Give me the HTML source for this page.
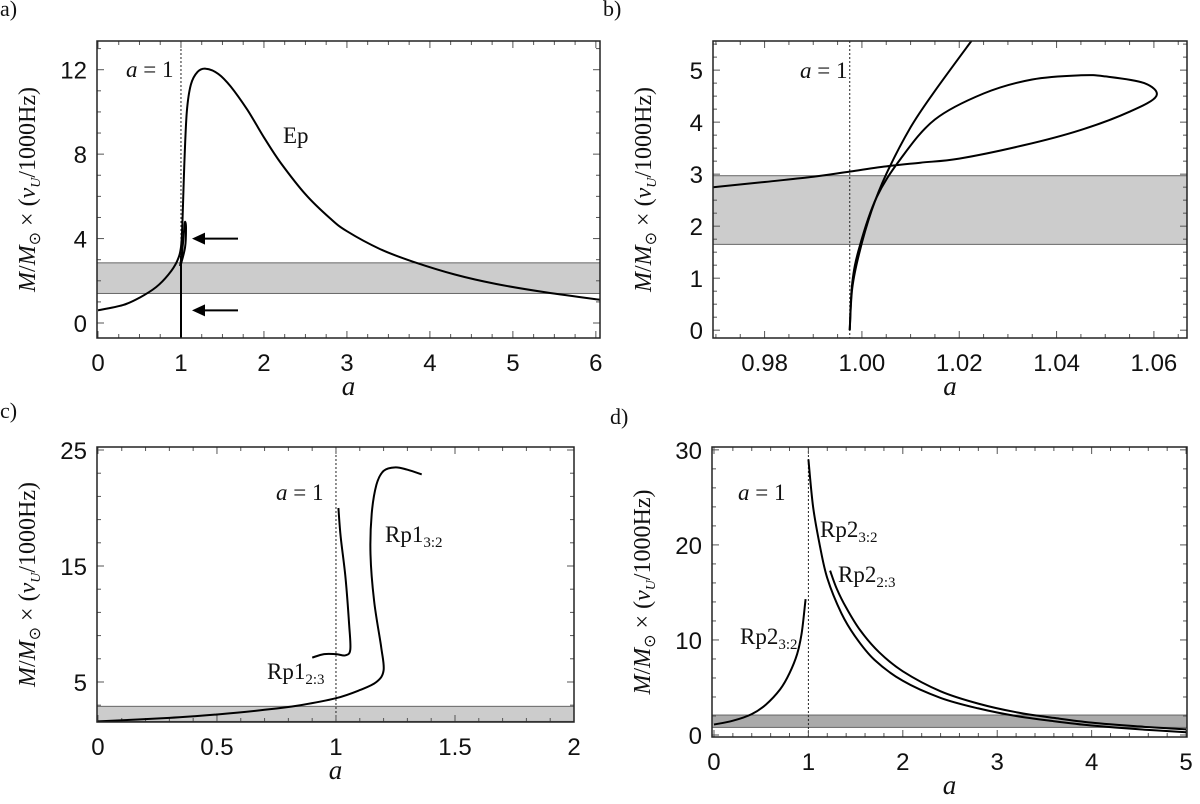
<!DOCTYPE html>
<html><head><meta charset="utf-8"><style>
body{margin:0;background:#fff;}
svg{display:block;}
text{font-family:"Liberation Sans",sans-serif;fill:#111;}
.serif{font-family:"Liberation Serif",serif;}
</style></head><body>
<svg id="fig" width="1200" height="804" viewBox="0 0 1200 804" xmlns="http://www.w3.org/2000/svg"></svg>
<script>
// ---- data ----
const aTicksX=[0,1,2,3,4,5,6];
const aTicksY=[0,4,8,12];
const aBand=[1.4,2.85];
const aEpX=[0,0.3,0.5,0.7,0.85,0.95,1.0,1.02,1.04,1.07,1.12,1.2,1.3,1.45,1.6,1.8,2.0,2.2,2.5,2.8,3.0,3.4,3.8,4.3,4.8,5.4,6.05];
const aEpY=[0.6,0.85,1.2,1.7,2.3,2.9,3.6,5,7.5,10,11.3,11.9,12.05,11.8,11.2,10.1,8.8,7.6,6.1,4.95,4.35,3.5,2.9,2.3,1.85,1.45,1.1];
const aLoopX=[0.99,1.02,1.04,1.05,1.06,1.05,1.0];
const aLoopY=[2.7,3.6,4.5,4.8,4.5,3.6,2.8];
const aVertX=[1.0,1.0];
const aVertY=[-0.7,3.2];

const bTicksX=[0.98,1.00,1.02,1.04,1.06];
const bTicksY=[0,1,2,3,4,5];
const bBand=[1.65,2.97];
const bLoopX=[0.9694,0.98,0.99,0.9975,1.005,1.012,1.02,1.033,1.045,1.055,1.0605,1.058,1.05,1.045,1.035,1.025,1.015,1.008,1.003,0.9995,0.998,0.9975];
const bLoopY=[2.75,2.85,2.95,3.05,3.15,3.22,3.3,3.55,3.85,4.2,4.5,4.75,4.88,4.9,4.82,4.55,4.05,3.3,2.55,1.6,0.9,0.0];
const bBranchX=[0.9975,0.998,0.9995,1.002,1.005,1.01,1.015,1.0225];
const bBranchY=[0.0,0.8,1.5,2.3,3.0,3.9,4.6,5.56];

const cTicksX=[0,0.5,1,1.5,2];
const cTicksY=[5,15,25];
const cBand=[1.6,2.9];
const cMainX=[0,0.3,0.5,0.7,0.85,1.0,1.1,1.17,1.2,1.19,1.16,1.145,1.15,1.17,1.2,1.25,1.3,1.36];
const cMainY=[1.6,1.9,2.2,2.6,3.0,3.6,4.3,5.0,6.0,8,12,16,19.5,22,23.2,23.5,23.3,22.9];
const cRp23X=[0.9,0.95,1.0,1.04,1.06,1.055,1.04,1.02,1.01];
const cRp23Y=[7.1,7.4,7.4,7.3,7.8,10,14,17.5,20];

const dTicksX=[0,1,2,3,4,5];
const dTicksY=[0,10,20,30];
const dBand=[0.8,2.1];
const dLeftX=[0,0.2,0.4,0.55,0.7,0.8,0.88,0.93,0.97];
const dLeftY=[1.1,1.5,2.2,3.2,4.8,6.5,8.5,10.8,14.3];
const dRight1X=[1.0,1.05,1.12,1.2,1.35,1.5,1.7,2.0,2.4,2.8,3.2,3.6,4.0,4.5,5.0];
const dRight1Y=[29,24,20,16.5,12.8,10.3,7.9,5.7,3.9,2.8,2.0,1.45,1.0,0.6,0.3];
const dRight2X=[1.23,1.3,1.4,1.55,1.75,2.0,2.4,2.8,3.2,3.6,4.0,4.5,5.0];
const dRight2Y=[17.3,15.4,13.4,11.0,8.7,6.7,4.6,3.3,2.4,1.8,1.3,0.9,0.6];

// ---- drawing ----
const NS="http://www.w3.org/2000/svg";
const svg=document.getElementById('fig');
function el(tag,attrs,parent){const e=document.createElementNS(NS,tag);for(const k in attrs)e.setAttribute(k,attrs[k]);(parent||svg).appendChild(e);return e;}
function smooth(pts){
  let d="M"+pts[0][0].toFixed(1)+","+pts[0][1].toFixed(1);
  for(let i=0;i<pts.length-1;i++){
    const p0=pts[i-1]||pts[i],p1=pts[i],p2=pts[i+1],p3=pts[i+2]||p2;
    const c1=[p1[0]+(p2[0]-p0[0])/6,p1[1]+(p2[1]-p0[1])/6];
    const c2=[p2[0]-(p3[0]-p1[0])/6,p2[1]-(p3[1]-p1[1])/6];
    d+=" C"+c1[0].toFixed(1)+","+c1[1].toFixed(1)+" "+c2[0].toFixed(1)+","+c2[1].toFixed(1)+" "+p2[0].toFixed(1)+","+p2[1].toFixed(1);
  }
  return d;
}
function panel(P){
  const g=el('g',{});
  
  
  const sx=v=>P.x0+(v-P.xd[0])/(P.xd[1]-P.xd[0])*(P.x1-P.x0);
  const sy=v=>P.y1-(v-P.yd[0])/(P.yd[1]-P.yd[0])*(P.y1-P.y0);
  const cp='cp'+P.name;
  const defs=el('defs',{},g);const clip=el('clipPath',{id:cp},defs);
  el('rect',{x:P.x0,y:P.y0,width:P.x1-P.x0,height:P.y1-P.y0},clip);
  const band=el('rect',{x:P.x0,y:sy(P.band[1]),width:P.x1-P.x0,height:sy(P.band[0])-sy(P.band[1]),fill:P.bandFill,stroke:'#666','stroke-width':1},g);
  
  
  const vl=el('line',{x1:sx(P.vline),x2:sx(P.vline),y1:P.y0,y2:P.y1,stroke:'#222','stroke-width':1,'stroke-dasharray':'2,2'},g);
  
  
  const step=(arr)=>arr[1]-arr[0];
  const mx=step(P.tx)/P.minX, my=step(P.ty)/P.minY;
  for(let v=P.tx[0]-step(P.tx);v<=P.xd[1]+1e-9;v+=mx){if(v<P.xd[0]-1e-9)continue;
    const major=P.tx.some(t=>Math.abs(t-v)<mx/4);const L=major?7:4;
    el('line',{x1:sx(v),x2:sx(v),y1:P.y1,y2:P.y1-L,stroke:'#555'},g);
    el('line',{x1:sx(v),x2:sx(v),y1:P.y0,y2:P.y0+L,stroke:'#555'},g);}
  for(let v=P.ty[0]-step(P.ty);v<=P.yd[1]+1e-9;v+=my){if(v<P.yd[0]-1e-9)continue;
    const major=P.ty.some(t=>Math.abs(t-v)<my/4);const L=major?7:4;
    el('line',{y1:sy(v),y2:sy(v),x1:P.x0,x2:P.x0+L,stroke:'#555'},g);
    el('line',{y1:sy(v),y2:sy(v),x1:P.x1,x2:P.x1-L,stroke:'#555'},g);}
  P.tx.forEach((t,i)=>{const tt=el('text',{x:sx(t),y:P.y1+33,'text-anchor':'middle','font-size':24},g);tt.textContent=P.txl[i];
    
    });
  P.ty.forEach(t=>{const tt=el('text',{x:P.x0-10,y:sy(t)+9,'text-anchor':'end','font-size':24},g);tt.textContent=t;
    
    });
  const cg=el('g',{'clip-path':'url(#'+cp+')'},g);
  P.series.forEach(s=>{const pts=s.x.map((v,i)=>[sx(v),sy(s.y[i])]);
    const p=el('path',{d:smooth(pts),fill:'none',stroke:'#000','stroke-width':2},cg);
    
    });
  el('rect',{x:P.x0,y:P.y0,width:P.x1-P.x0,height:P.y1-P.y0,fill:'none',stroke:'#222','stroke-width':1.5},g);
  const xl=el('text',{x:(P.x0+P.x1)/2,y:P.y1+57,'text-anchor':'middle','font-size':27,'font-style':'italic',class:'serif'},g);xl.textContent='a';
  
  
  const yl=el('text',{transform:'translate('+(P.x0-62)+','+((P.y0+P.y1)/2)+') rotate(-90)','text-anchor':'middle','font-size':24,class:'serif'},g);
  yl.innerHTML='<tspan font-style="italic">M</tspan>/<tspan font-style="italic">M</tspan><tspan font-size="16" dy="5">⊙</tspan><tspan dy="-5"> × (</tspan><tspan font-style="italic">ν</tspan><tspan font-size="14" dy="5" font-style="italic">U</tspan><tspan dy="-5">/1000Hz)</tspan>';
  
  
  const pl=el('text',{x:P.lx,y:P.ly,'font-size':22,class:'serif'},g);pl.textContent=P.letter;
  
  
  P.labels.forEach(L=>{const t=el('text',{x:L.x,y:L.y,'font-size':23,class:'serif'},g);t.innerHTML=L.html;
    
    });
  return {g,sx,sy};
}
const a1='<tspan font-style="italic">a</tspan> = 1';
const pa=panel({name:'panel-a',letter:'a)',lx:0,ly:16,x0:97,x1:600,y0:41,y1:338,xd:[-0.012,6.05],yd:[-0.71,13.36],tx:aTicksX,txl:aTicksX,ty:aTicksY,minX:4,minY:4,band:aBand,bandFill:'#cccccc',vline:1,
  series:[{name:'ep-curve',x:aEpX,y:aEpY},{name:'ep-loop',x:aLoopX,y:aLoopY},{name:'ep-vertical',x:aVertX,y:aVertY}],
  labels:[{x:126,y:77,html:a1,name:'a-equals-1-label'},{x:283,y:143,html:'Ep',name:'ep-label'}]});
[4,0.6].forEach(v=>{const y=pa.sy(v);const ar=el('g',{},pa.g);
  
  
  el('line',{x1:238,x2:200,y1:y,y2:y,stroke:'#000','stroke-width':2},ar);
  el('polygon',{points:'192,'+y+' 205,'+(y-6)+' 205,'+(y+6),fill:'#000'},ar);});
panel({name:'panel-b',letter:'b)',lx:603,ly:16,x0:713,x1:1187,y0:41,y1:338,xd:[0.9694,1.0668],yd:[-0.15,5.56],tx:bTicksX,txl:['0.98','1.00','1.02','1.04','1.06'],ty:bTicksY,minX:4,minY:4,band:bBand,bandFill:'#cccccc',vline:0.9975,
  series:[{name:'loop-curve',x:bLoopX,y:bLoopY},{name:'branch-curve',x:bBranchX,y:bBranchY}],
  labels:[{x:800,y:78,html:a1,name:'a-equals-1-label'}]});
panel({name:'panel-c',letter:'c)',lx:0,ly:418,x0:97,x1:574,y0:447,y1:722,xd:[-0.004,2.0],yd:[1.55,25.26],tx:cTicksX,txl:cTicksX,ty:cTicksY,minX:5,minY:5,band:cBand,bandFill:'#cccccc',vline:1,
  series:[{name:'rp1-3-2-curve',x:cMainX,y:cMainY},{name:'rp1-2-3-curve',x:cRp23X,y:cRp23Y}],
  labels:[{x:276,y:500,html:a1,name:'a-equals-1-label'},{x:385,y:542,html:'Rp1<tspan font-size="15" dy="5">3:2</tspan>',name:'rp1-3-2-label'},{x:267,y:679,html:'Rp1<tspan font-size="15" dy="5">2:3</tspan>',name:'rp1-2-3-label'}]});
panel({name:'panel-d',letter:'d)',lx:610,ly:424,x0:712,x1:1187,y0:447,y1:737,xd:[-0.021,5.01],yd:[-0.21,30.3],tx:dTicksX,txl:dTicksX,ty:dTicksY,minX:5,minY:5,band:dBand,bandFill:'#aaaaaa',vline:1,
  series:[{name:'rp2-left-curve',x:dLeftX,y:dLeftY},{name:'rp2-3-2-curve',x:dRight1X,y:dRight1Y},{name:'rp2-2-3-curve',x:dRight2X,y:dRight2Y}],
  labels:[{x:738,y:500,html:a1,name:'a-equals-1-label'},{x:820,y:537,html:'Rp2<tspan font-size="15" dy="5">3:2</tspan>',name:'rp2-3-2-label'},{x:838,y:582,html:'Rp2<tspan font-size="15" dy="5">2:3</tspan>',name:'rp2-2-3-label'},{x:740,y:644,html:'Rp2<tspan font-size="15" dy="5">3:2</tspan>',name:'rp2-3-2-left-label'}]});
</script>
</body></html>
